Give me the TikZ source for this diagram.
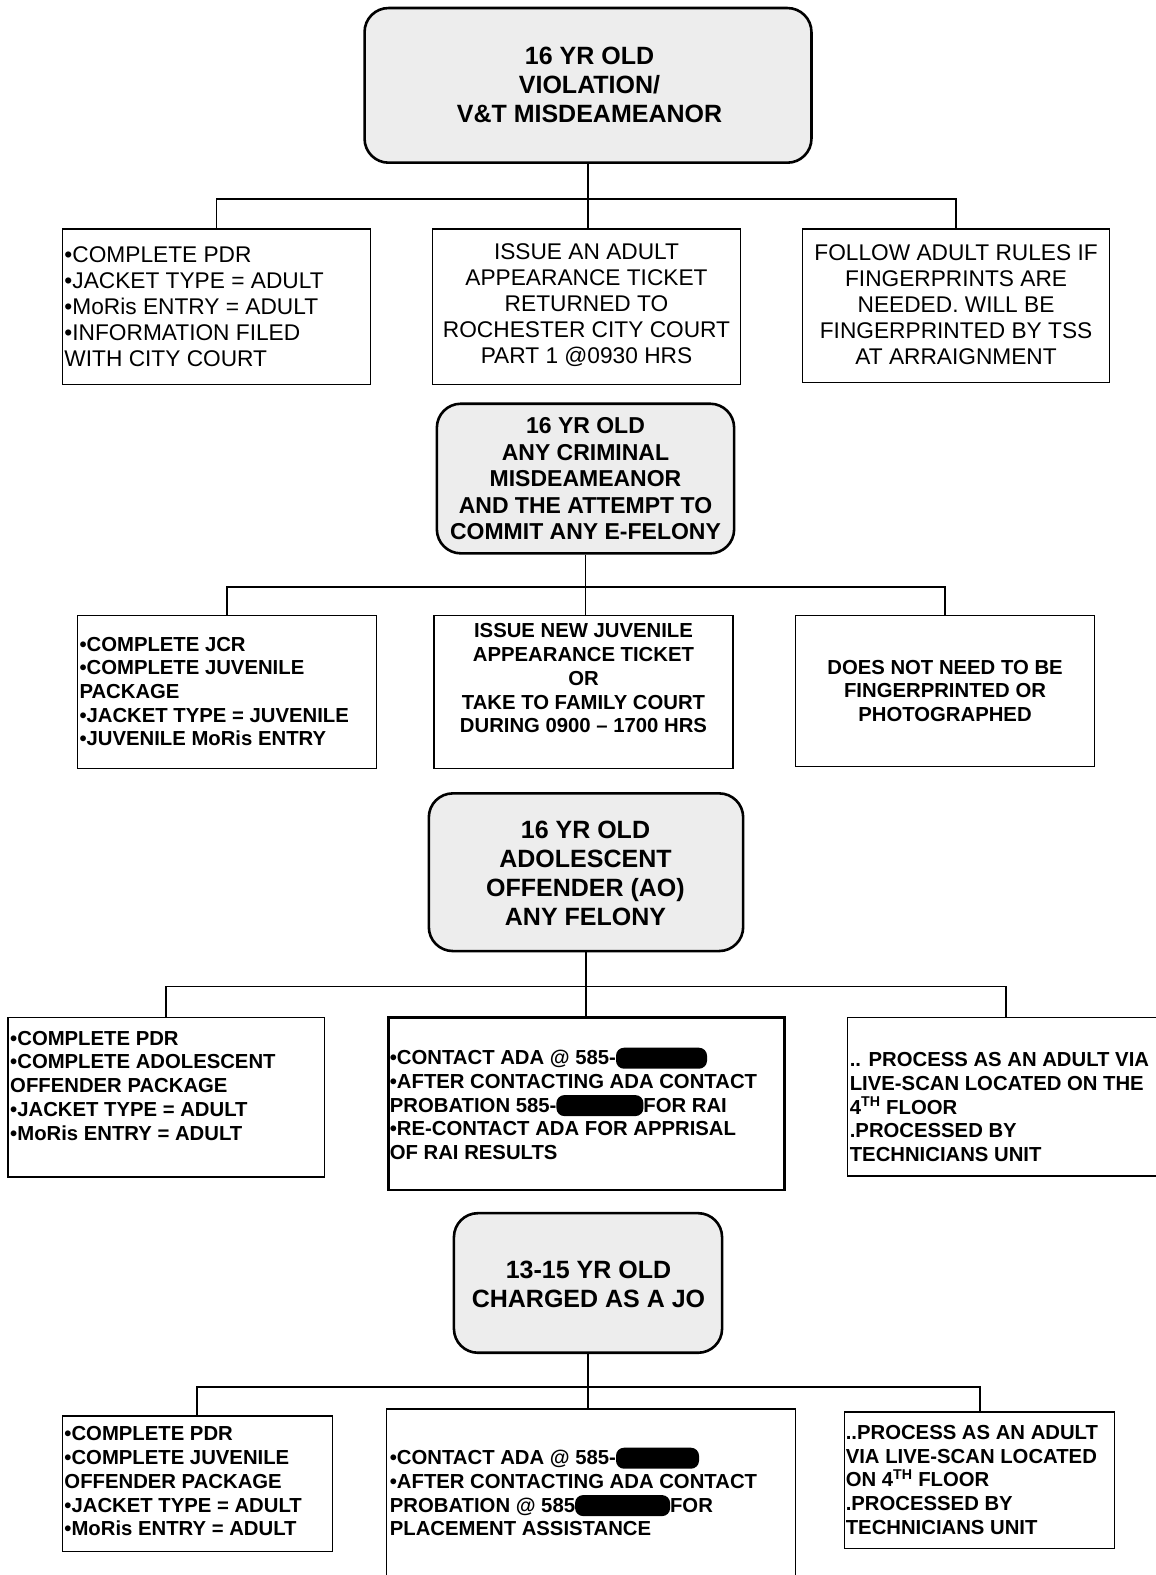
\documentclass[tikz,border=0pt]{standalone}
\usepackage{fontspec}
\setmainfont{Liberation Sans}
\usetikzlibrary{fit}
\newcommand\redact[1]{\tikz[baseline=0pt]\fill[black,rounded corners=8pt](0pt,-4pt) rectangle (#1,17pt);}
\tikzset{
  rootbox/.style={draw, line width=2.6pt, rounded corners=24pt, fill=black!7, inner sep=0pt},
  box/.style={draw, line width=1.3pt, inner sep=0pt},
  thickbox/.style={draw, line width=2.6pt, inner sep=0pt},
  link/.style={line width=1.8pt},
  tn/.style={inner sep=0pt, font=\fontsize{22.7}{26}\selectfont},
  tb/.style={inner sep=0pt, font=\fontsize{20.3}{23.7}\selectfont\bfseries},
  tr/.style={inner sep=0pt, align=center, font=\fontsize{25}{29}\selectfont\bfseries},
  trs/.style={inner sep=0pt, align=center, font=\fontsize{23}{26.5}\selectfont\bfseries},
}
\begin{document}
\begin{tikzpicture}[x=1.0043pt, y=-1.0043pt]
\fill[white] (0,0) rectangle (1151,1568.3);
\useasboundingbox (0,0) rectangle (1151,1568.3);

% ---------- level 1 ----------
\node[rootbox, fit={(363,8) (808,162)}] (r1) {};
\node[tr] (r1t) at (587,85) {16 YR OLD\\VIOLATION/\\V\&T MISDEAMEANOR};
\node[box, fit={(62,228) (369,383)}] (a1) {};
\node[box, fit={(431,228) (737,383)}] (a2) {};
\node[box, fit={(799,228) (1105,381)}] (a3) {};
\node[tn, anchor=west, align=left] (a1t) at (64,305) {•COMPLETE PDR\\•JACKET TYPE = ADULT\\•MoRis ENTRY = ADULT\\•INFORMATION FILED\\WITH CITY COURT};
\node[tn, align=center] (a2t) at (584,304) {ISSUE AN ADULT\\APPEARANCE TICKET\\RETURNED TO\\ROCHESTER CITY COURT\\PART 1 @0930 HRS};
\node[tn, align=center] (a3t) at (952,303.5) {FOLLOW ADULT RULES IF\\FINGERPRINTS ARE\\NEEDED. WILL BE\\FINGERPRINTED BY TSS\\AT ARRAIGNMENT};
\path (r1.south) ++(0,35) coordinate (j1);
\draw[link] (r1.south) -- (j1) -- (j1 |- a2.north);
\draw[link] (a1.north) |- (j1) -| (a3.north);

% ---------- level 2 ----------
\node[rootbox, fit={(435,402) (731,551)}] (r2) {};
\node[trs] (r2t) at (583,477) {16 YR OLD\\ANY CRIMINAL\\MISDEAMEANOR\\AND THE ATTEMPT TO\\COMMIT ANY E-FELONY};
\node[box, fit={(77,613) (375,765)}] (b1) {};
\node[box, fit={(432,613) (730,765)}] (b2) {};
\node[box, fit={(792,613) (1090,763)}] (b3) {};
\node[tb, anchor=west, align=left] (b1t) at (79,688.5) {•COMPLETE JCR\\•COMPLETE JUVENILE\\PACKAGE\\•JACKET TYPE = JUVENILE\\•JUVENILE MoRis ENTRY};
\node[tb, align=center] (b2t) at (581,675.5) {ISSUE NEW JUVENILE\\APPEARANCE TICKET\\OR\\TAKE TO FAMILY COURT\\DURING 0900 – 1700 HRS};
\node[tb, align=center] (b3t) at (941,688) {DOES NOT NEED TO BE\\FINGERPRINTED OR\\PHOTOGRAPHED};
\path (r2.south) ++(0,32) coordinate (j2);
\draw[link] (r2.south) -- (j2) -- (j2 |- b2.north);
\draw[link] (b1.north) |- (j2) -| (b3.north);

% ---------- level 3 ----------
\node[rootbox, fit={(427,790) (740,947)}] (r3) {};
\node[tr] (r3t) at (583,869.5) {16 YR OLD\\ADOLESCENT\\OFFENDER (AO)\\ANY FELONY};
\node[box, fit={(8,1013) (323,1172)}] (c1) {};
\node[thickbox, fit={(387,1013) (781,1185)}] (c2) {};
\node[box, fit={(844,1013) (1160,1171)}] (c3) {};
\node[tb, anchor=west, align=left] (c1t) at (10,1081) {•COMPLETE PDR\\•COMPLETE ADOLESCENT\\OFFENDER PACKAGE\\•JACKET TYPE = ADULT\\•MoRis ENTRY = ADULT};
\node[tb, anchor=west, align=left] (c2t) at (388,1099) {•CONTACT ADA @ 585-\redact{91pt}\\•AFTER CONTACTING ADA CONTACT\\PROBATION 585-\redact{87pt}FOR RAI\\•RE-CONTACT ADA FOR APPRISAL\\OF RAI RESULTS};
\node[tb, anchor=west, align=left] (c3t) at (846,1102.5) {.. PROCESS AS AN ADULT VIA\\LIVE-SCAN LOCATED ON THE\\4\textsuperscript{TH} FLOOR\\.PROCESSED BY\\TECHNICIANS UNIT};
\path (r3.south) ++(0,34) coordinate (j3);
\draw[link] (r3.south) -- (j3) -- (j3 |- c2.north);
\draw[link] (c1.north) |- (j3) -| (c3.north);

% ---------- level 4 ----------
\node[rootbox, fit={(452,1208) (719,1347)}] (r4) {};
\node[tr] (r4t) at (586,1278.5) {13-15 YR OLD\\CHARGED AS A JO};
\node[box, fit={(62,1410) (331,1545)}] (d1) {};
\node[box, fit={(385,1403) (792,1580)}] (d2) {};
\node[box, fit={(841,1406) (1110,1542)}] (d3) {};
\node[tb, anchor=west, align=left] (d1t) at (64,1475) {•COMPLETE PDR\\•COMPLETE JUVENILE\\OFFENDER PACKAGE\\•JACKET TYPE = ADULT\\•MoRis ENTRY = ADULT};
\node[tb, anchor=west, align=left] (d2t) at (388,1485.5) {•CONTACT ADA @ 585-\redact{83pt}\\•AFTER CONTACTING ADA CONTACT\\PROBATION @ 585\redact{95pt}FOR\\PLACEMENT ASSISTANCE};
\node[tb, anchor=west, align=left] (d3t) at (842,1473.5) {..PROCESS AS AN ADULT\\VIA LIVE-SCAN LOCATED\\ON 4\textsuperscript{TH} FLOOR\\.PROCESSED BY\\TECHNICIANS UNIT};
\path (r4.south) ++(0,33) coordinate (j4);
\draw[link] (r4.south) -- (j4) -- (j4 |- d2.north);
\draw[link] (d1.north) |- (j4) -| (d3.north);
\end{tikzpicture}
\end{document}
